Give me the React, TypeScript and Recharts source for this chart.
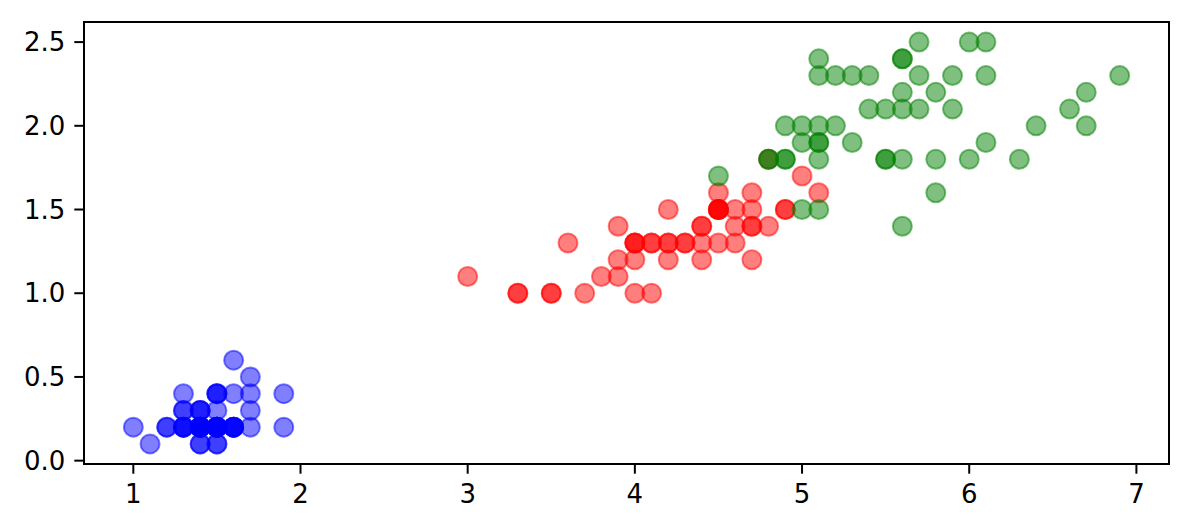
import React from "react";
import {
  ScatterChart,
  Scatter,
  XAxis,
  YAxis,
  ReferenceArea,
} from "recharts";

// petal length / petal width, per species
const setosaLength = [
  1.4, 1.4, 1.3, 1.5, 1.4, 1.7, 1.4, 1.5, 1.4, 1.5, 1.5, 1.6, 1.4, 1.1, 1.2, 1.5, 1.3, 1.4, 1.7, 1.5,
  1.7, 1.5, 1.0, 1.7, 1.9, 1.6, 1.6, 1.5, 1.4, 1.6, 1.6, 1.5, 1.5, 1.4, 1.5, 1.2, 1.3, 1.4, 1.3, 1.5,
  1.3, 1.3, 1.3, 1.6, 1.9, 1.4, 1.6, 1.4, 1.5, 1.4,
];
const setosaWidth = [
  0.2, 0.2, 0.2, 0.2, 0.2, 0.4, 0.3, 0.2, 0.2, 0.1, 0.2, 0.2, 0.1, 0.1, 0.2, 0.4, 0.4, 0.3, 0.3, 0.3,
  0.2, 0.4, 0.2, 0.5, 0.2, 0.2, 0.4, 0.2, 0.2, 0.2, 0.2, 0.4, 0.1, 0.2, 0.2, 0.2, 0.2, 0.1, 0.2, 0.2,
  0.3, 0.3, 0.2, 0.6, 0.4, 0.3, 0.2, 0.2, 0.2, 0.2,
];
const versicolorLength = [
  4.7, 4.5, 4.9, 4.0, 4.6, 4.5, 4.7, 3.3, 4.6, 3.9, 3.5, 4.2, 4.0, 4.7, 3.6, 4.4, 4.5, 4.1, 4.5, 3.9,
  4.8, 4.0, 4.9, 4.7, 4.3, 4.4, 4.8, 5.0, 4.5, 3.5, 3.8, 3.7, 3.9, 5.1, 4.5, 4.5, 4.7, 4.4, 4.1, 4.0,
  4.4, 4.6, 4.0, 3.3, 4.2, 4.2, 4.2, 4.3, 3.0, 4.1,
];
const versicolorWidth = [
  1.4, 1.5, 1.5, 1.3, 1.5, 1.3, 1.6, 1.0, 1.3, 1.4, 1.0, 1.5, 1.0, 1.4, 1.3, 1.4, 1.5, 1.0, 1.5, 1.1,
  1.8, 1.3, 1.5, 1.2, 1.3, 1.4, 1.4, 1.7, 1.5, 1.0, 1.1, 1.0, 1.2, 1.6, 1.5, 1.6, 1.5, 1.3, 1.3, 1.3,
  1.2, 1.4, 1.2, 1.0, 1.3, 1.2, 1.3, 1.3, 1.1, 1.3,
];
const virginicaLength = [
  6.0, 5.1, 5.9, 5.6, 5.8, 6.6, 4.5, 6.3, 5.8, 6.1, 5.1, 5.3, 5.5, 5.0, 5.1, 5.3, 5.5, 6.7, 6.9, 5.0,
  5.7, 4.9, 6.7, 4.9, 5.7, 6.0, 4.8, 4.9, 5.6, 5.8, 6.1, 6.4, 5.6, 5.1, 5.6, 6.1, 5.6, 5.5, 4.8, 5.4,
  5.6, 5.1, 5.1, 5.9, 5.7, 5.2, 5.0, 5.2, 5.4, 5.1,
];
const virginicaWidth = [
  2.5, 1.9, 2.1, 1.8, 2.2, 2.1, 1.7, 1.8, 1.8, 2.5, 2.0, 1.9, 2.1, 2.0, 2.4, 2.3, 1.8, 2.2, 2.3, 1.5,
  2.3, 2.0, 2.0, 1.8, 2.1, 1.8, 1.8, 1.8, 2.1, 1.6, 1.9, 2.0, 2.2, 1.5, 1.4, 2.3, 2.4, 1.8, 1.8, 2.1,
  2.4, 2.3, 1.9, 2.3, 2.5, 2.3, 1.9, 2.0, 2.3, 1.8,
];

const xTicks = [1, 2, 3, 4, 5, 6, 7];
const yTicks = [0, 0.5, 1, 1.5, 2, 2.5];

const X_DOMAIN: [number, number] = [0.705, 7.195];
const Y_DOMAIN: [number, number] = [-0.02, 2.62];

const zip = (xs: number[], ys: number[]) => xs.map((x, i) => ({ x, y: ys[i] }));

const dot = (color: string) => (props: any) => (
  <circle
    cx={props.cx}
    cy={props.cy}
    r={9.5}
    fill={color}
    fillOpacity={0.5}
    stroke={color}
    strokeOpacity={0.5}
    strokeWidth={2}
  />
);

const tickStyle = { fill: "#000", fontSize: 26, fontFamily: "DejaVu Sans" };

export default function App() {
  return (
    <div style={{ width: 1192, height: 532, background: "#fff" }}>
      <style>{"body{margin:0}"}</style>
      <ScatterChart width={1192} height={532} margin={{ top: 22, right: 23, bottom: 0, left: 0 }}>
        <XAxis
          type="number"
          dataKey="x"
          domain={X_DOMAIN}
          ticks={xTicks}
          allowDataOverflow
          height={68}
          axisLine={false}
          tickLine={{ stroke: "#000", strokeWidth: 2 }}
          tickSize={9.7}
          tickMargin={11}
          tick={tickStyle}
        />
        <YAxis
          type="number"
          dataKey="y"
          domain={Y_DOMAIN}
          ticks={yTicks}
          allowDataOverflow
          width={84}
          axisLine={false}
          tickLine={{ stroke: "#000", strokeWidth: 2 }}
          tickSize={9.7}
          tickMargin={9}
          tick={tickStyle}
          tickFormatter={(v) => Number(v).toFixed(1)}
        />
        <Scatter data={zip(setosaLength, setosaWidth)} shape={dot("#0000ff")} isAnimationActive={false} />
        <Scatter data={zip(versicolorLength, versicolorWidth)} shape={dot("#ff0000")} isAnimationActive={false} />
        <Scatter data={zip(virginicaLength, virginicaWidth)} shape={dot("#008000")} isAnimationActive={false} />
        <ReferenceArea
          x1={X_DOMAIN[0]}
          x2={X_DOMAIN[1]}
          y1={Y_DOMAIN[0]}
          y2={Y_DOMAIN[1]}
          fill="none"
          stroke="#000"
          strokeWidth={2}
          ifOverflow="visible"
        />
      </ScatterChart>
    </div>
  );
}
